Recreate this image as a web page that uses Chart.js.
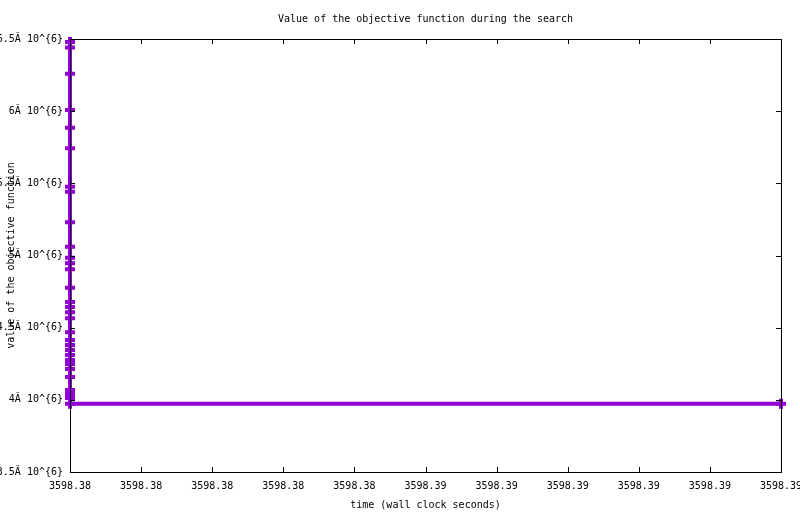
<!DOCTYPE html>
<html>
<head>
<meta charset="utf-8">
<script src="https://cdn.jsdelivr.net/npm/chart.js@4/dist/chart.umd.min.js"></script>
<style>
  html, body { margin: 0; padding: 0; background: #fff; }
  #wrap { width: 800px; height: 514px; }
</style>
</head>
<body>
<div id="wrap"><canvas id="objective-chart"></canvas></div>
<script>
// DATA  -------------------------------------------------------------------------------

const chartTitle = 'Value of the objective function during the search';
const xTitle = 'time (wall clock seconds)';
const yTitle = 'value of the objective function';

// wall clock time of every improvement (all but the last land in the same millisecond)
const times = [
    3598.380, 3598.380, 3598.380, 3598.380, 3598.380, 3598.380, 3598.380, 3598.380,
    3598.380, 3598.380, 3598.380, 3598.380, 3598.380, 3598.380, 3598.380, 3598.380,
    3598.380, 3598.380, 3598.380, 3598.380, 3598.380, 3598.380, 3598.380, 3598.380,
    3598.380, 3598.380, 3598.380, 3598.380, 3598.380, 3598.380, 3598.380, 3598.390
];

// objective value at each of those times
const objectiveValues = [
    6479000, 6441000, 6260000, 6008000, 5885000, 5743000, 5477000, 5442000,
    5230000, 5061000, 4985000, 4946000, 4904000, 4777000, 4678000, 4643000,
    4606000, 4565000, 4468000, 4415000, 4380000, 4345000, 4311000, 4276000,
    4248000, 4214000, 4158000, 4068000, 4040000, 4013000, 3972000, 3972000
];

const xTickValues = [3598.380, 3598.381, 3598.382, 3598.383, 3598.384, 3598.385,
                     3598.386, 3598.387, 3598.388, 3598.389, 3598.390];
const xTickLabels = ['3598.38', '3598.38', '3598.38', '3598.38', '3598.38', '3598.39',
                     '3598.39', '3598.39', '3598.39', '3598.39', '3598.39'];

const yTickValues = [3500000, 4000000, 4500000, 5000000, 5500000, 6000000, 6500000];
const yTickLabels = ['3.5\u0102 10^{6}', '4\u0102 10^{6}', '4.5\u0102 10^{6}', '5\u0102 10^{6}',
                     '5.5\u0102 10^{6}', '6\u0102 10^{6}', '6.5\u0102 10^{6}'];

// CHART SCRIPT  -----------------------------------------------------------------------

const lineColor = '#9400d3';
const fontFamily = '"DejaVu Sans Mono", "Liberation Mono", monospace';

// gnuplot style frame: border and inward ticks on all four sides, drawn over the data
const framePlugin = {
    id: 'gnuplotFrame',
    afterDatasetsDraw(chart) {
        const { ctx, chartArea: a, scales } = chart;
        const tick = 5;
        ctx.save();
        ctx.strokeStyle = '#000';
        ctx.lineWidth = 1;
        ctx.beginPath();
        scales.x.ticks.forEach(t => {
            const x = Math.round(scales.x.getPixelForValue(t.value)) + 0.5;
            ctx.moveTo(x, a.bottom); ctx.lineTo(x, a.bottom - tick);
            ctx.moveTo(x, a.top); ctx.lineTo(x, a.top + tick);
        });
        scales.y.ticks.forEach(t => {
            const y = Math.round(scales.y.getPixelForValue(t.value)) + 0.5;
            ctx.moveTo(a.left, y); ctx.lineTo(a.left + tick, y);
            ctx.moveTo(a.right, y); ctx.lineTo(a.right - tick, y);
        });
        ctx.stroke();
        ctx.strokeRect(Math.round(a.left) + 0.5, Math.round(a.top) + 0.5,
                       Math.round(a.right - a.left), Math.round(a.bottom - a.top));
        ctx.restore();
    },
    afterDraw(chart) {
        const { ctx, chartArea: a } = chart;
        ctx.save();
        ctx.fillStyle = '#000';
        ctx.font = '10px ' + fontFamily;
        ctx.textAlign = 'center';
        ctx.textBaseline = 'middle';
        ctx.fillText(chartTitle, (a.left + a.right) / 2, 19);
        ctx.restore();
    }
};

const points = times.map((t, i) => ({ x: t, y: objectiveValues[i] }));

new Chart(document.getElementById('objective-chart'), {
    type: 'line',
    data: {
        datasets: [{
            label: 'objective',
            data: points,
            borderColor: lineColor,
            backgroundColor: lineColor,
            borderWidth: 4,
            pointStyle: 'cross',
            pointRadius: 5,
            pointBorderWidth: 4,
            pointBorderColor: lineColor,
            tension: 0,
            clip: false
        }]
    },
    options: {
        responsive: true,
        maintainAspectRatio: false,
        animation: false,
        events: [],
        layout: {
            padding: { top: 39, right: 19, left: 0, bottom: 0 }
        },
        font: { family: fontFamily, size: 10 },
        scales: {
            x: {
                type: 'linear',
                min: 3598.380,
                max: 3598.390,
                grid: { display: false, drawTicks: false },
                border: { display: false },
                afterBuildTicks: scale => {
                    scale.ticks = xTickValues.map(v => ({ value: v }));
                },
                afterFit: scale => {
                    scale.height = 42;
                    scale.paddingLeft = 0;
                    scale.paddingRight = 0;
                },
                ticks: {
                    autoSkip: false,
                    maxRotation: 0,
                    padding: 8,
                    color: '#000',
                    font: { family: fontFamily, size: 10 },
                    callback: (value, index) => xTickLabels[index]
                },
                title: {
                    display: true,
                    text: xTitle,
                    color: '#000',
                    font: { family: fontFamily, size: 10 },
                    padding: { top: 0, bottom: 3 }
                }
            },
            y: {
                type: 'linear',
                min: 3500000,
                max: 6500000,
                grid: { display: false, drawTicks: false },
                border: { display: false },
                afterBuildTicks: scale => {
                    scale.ticks = yTickValues.map(v => ({ value: v }));
                },
                afterFit: scale => {
                    scale.width = 70;
                    scale.paddingTop = 0;
                    scale.paddingBottom = 0;
                },
                ticks: {
                    padding: 7,
                    color: '#000',
                    font: { family: fontFamily, size: 10 },
                    callback: (value, index) => yTickLabels[index]
                },
                title: {
                    display: true,
                    text: yTitle,
                    color: '#000',
                    font: { family: fontFamily, size: 10 },
                    padding: { top: 5, bottom: 0 }
                }
            }
        },
        plugins: {
            legend: { display: false },
            tooltip: { enabled: false }
        }
    },
    plugins: [framePlugin]
});
</script>
</body>
</html>
